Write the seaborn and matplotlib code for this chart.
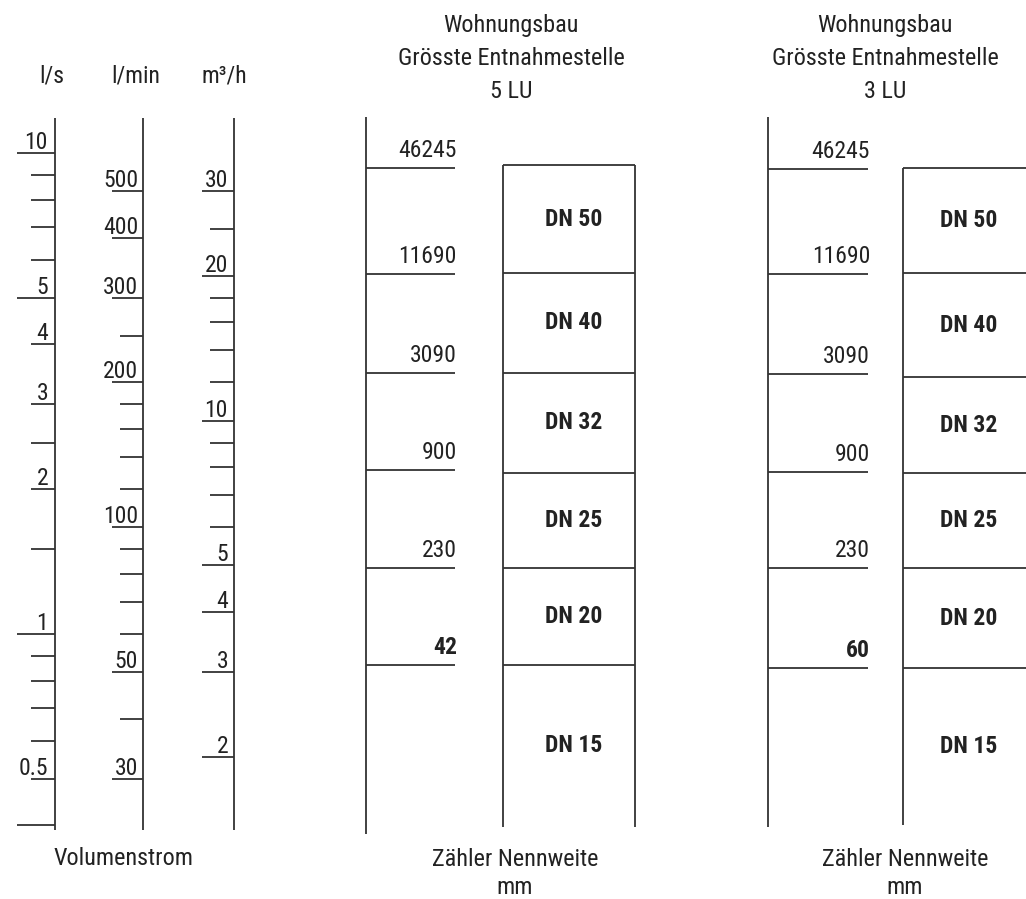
import numpy as np
import matplotlib
matplotlib.use("Agg")
import matplotlib.pyplot as plt
from matplotlib import font_manager
import seaborn as sns

sns.set_theme(style="white")

# narrow face if one is installed, otherwise a plain face at a smaller size
installed = {f.name for f in font_manager.fontManager.ttflist}
if "Roboto Condensed" in installed:
    FAMILY, K = "Roboto Condensed", 1.0
elif "Liberation Sans Narrow" in installed:
    FAMILY, K = "Liberation Sans Narrow", 1.0
else:
    FAMILY, K = "Roboto", 0.84
plt.rcParams["font.family"] = [FAMILY, "DejaVu Sans"]

# --- data: volume flow scales (one shared log axis, in l/s) ---
ls_ticks = [10, 9, 8, 7, 6, 5, 4, 3, 2.5, 2, 1.5, 1, 0.9, 0.8, 0.7, 0.6, 0.5, 0.4]
ls_labels = ["10", "", "", "", "", "5", "4", "3", "", "2", "", "1", "", "", "", "", "0.5", ""]
ls_long = [10, 5, 1, 0.4]

lmin_ticks = [500, 400, 300, 250, 200, 180, 160, 140, 120, 100, 90, 80, 70, 60, 50, 40, 30]
lmin_labels = ["500", "400", "300", "", "200", "", "", "", "", "100", "", "", "", "", "50", "", "30"]

m3h_ticks = [30, 25, 20, 18, 16, 14, 12, 10, 9, 8, 7, 6, 5, 4, 3, 2]
m3h_labels = ["30", "", "20", "", "", "", "", "10", "", "", "", "", "5", "4", "3", "2"]

# --- data: loading units (LU) and their flow in l/s ---
lu_5 = ["46245", "11690", "3090", "900", "230", "42"]
q_lu_5 = [9.31, 5.60, 3.49, 2.19, 1.37, 0.862]
lu_3 = ["46245", "11690", "3090", "900", "230", "60"]
q_lu_3 = [9.26, 5.60, 3.47, 2.17, 1.37, 0.850]

dn_names = ["DN 50", "DN 40", "DN 32", "DN 25", "DN 20", "DN 15"]
dn_edges_5 = [9.44, 5.63, 3.49, 2.16, 1.37, 0.862, 0.397]
dn_edges_3 = [9.31, 5.63, 3.42, 2.16, 1.37, 0.850, 0.401]

W, H = 1026, 899
INK = "#222222"
LINE = "#333333"
LW = 1.3
FS = 17.4 * K    # headers, captions
FS_T = 17 * K    # scale numbers
FS_B = 17 * K    # bold labels

fig = plt.figure(figsize=(W / 100, H / 100), dpi=100)
ax = fig.add_axes([0, 0, 1, 1])
ax.set_yscale("log")
ax.set_xlim(0, W)
ax.set_ylim(0.2812, 20.80)
ax.axis("off")


def ftext(x, y, s, **kw):
    kw.setdefault("ha", "center")
    kw.setdefault("va", "baseline")
    kw.setdefault("color", INK)
    kw.setdefault("fontsize", FS)
    fig.text(x / W, 1 - y / H, s, **kw)


def scale(x, ticks, labels, factor, long_len, short_len, long_set=None, lab_off=6):
    q = np.array(ticks, dtype=float) / factor
    ax.vlines(x, 0.392, 11.82, color=LINE, lw=LW)
    for v, qq, lab in zip(ticks, q, labels):
        if long_set is not None:
            ln = long_len if v in long_set else short_len
        else:
            ln = long_len if lab else short_len
        ax.hlines(qq, x - ln, x, color=LINE, lw=LW)
        if lab:
            ax.annotate(lab, xy=(x - lab_off, qq), xytext=(0, 4), textcoords="offset pixels",
                        ha="right", va="baseline", fontsize=FS_T, color=INK)


scale(55, ls_ticks, ls_labels, 1.0, 38, 24, long_set=ls_long, lab_off=7)
scale(143, lmin_ticks, lmin_labels, 60.0, 31, 23, lab_off=5)
scale(234, m3h_ticks, m3h_labels, 3.6, 32, 24, lab_off=6)

ftext(52, 83, "l/s", fontsize=FS_T)
ftext(136, 83, "l/min", fontsize=FS_T)
ftext(224, 83, "m³/h", fontsize=FS_T)
ftext(123, 865, "Volumenstrom")


def meter(x_line, line_len, bot, lus, q_lu, edges, box_l, box_r, lab_x, head_x, foot_x, n_lu):
    ax.vlines(x_line, bot, 11.88, color=LINE, lw=LW)
    for i, (lab, qq) in enumerate(zip(lus, q_lu)):
        ax.hlines(qq, x_line, x_line + line_len, color=LINE, lw=LW)
        bold = i == len(lus) - 1
        ax.annotate(lab, xy=(x_line + line_len + 2, qq), xytext=(0, 11), textcoords="offset pixels",
                    ha="right", va="baseline", fontsize=FS_B if bold else FS_T, color=INK,
                    fontweight="bold" if bold else "normal")
    ax.hlines(edges[:-1], box_l, box_r, color=LINE, lw=LW)
    ax.vlines([box_l, box_r], edges[-1], edges[0], color=LINE, lw=LW)
    for name, top, low in zip(dn_names, edges[:-1], edges[1:]):
        ax.text(lab_x, np.sqrt(top * low), name, ha="center", va="center",
                fontsize=FS_B, fontweight="bold", color=INK)
    ftext(head_x, 32, "Wohnungsbau")
    ftext(head_x, 65, "Grösste Entnahmestelle")
    ftext(head_x, 98, n_lu)
    ftext(foot_x, 866, "Zähler Nennweite")
    ftext(foot_x, 894, "mm")


meter(366, 89, 0.384, lu_5, q_lu_5, dn_edges_5, 503, 635, 574, 511, 515, "5 LU")
meter(768, 100, 0.397, lu_3, q_lu_3, dn_edges_3, 903, 1040, 969, 885, 905, "3 LU")

fig.savefig("out.png", dpi=100, facecolor="white")
